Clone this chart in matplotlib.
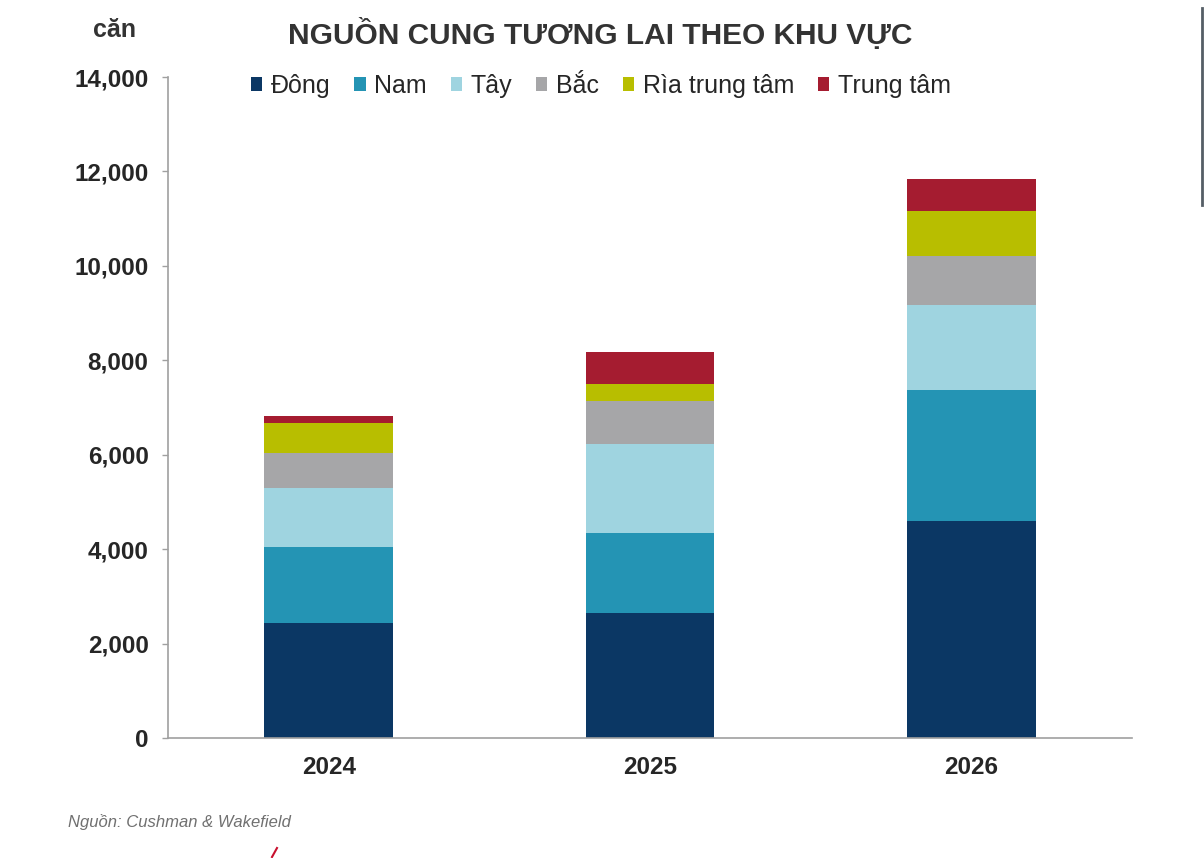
import matplotlib
matplotlib.use("Agg")
import matplotlib.pyplot as plt
from matplotlib.patches import Patch
from matplotlib.lines import Line2D
import numpy as np

plt.rcParams['font.family'] = ['Liberation Sans', 'DejaVu Sans']

years = ["2024", "2025", "2026"]
series_names = ["Đông", "Nam", "Tây", "Bắc", "Rìa trung tâm", "Trung tâm"]
dong = [2440, 2650, 4600]
nam = [1610, 1690, 2770]
tay = [1250, 1890, 1800]
bac = [740, 900, 1040]
ria = [630, 370, 950]
trung_tam = [150, 680, 680]
colors = ["#0b3764", "#2494b4", "#9fd4e0", "#a6a6a8", "#b8be00", "#a51c30"]
yticks = [0, 2000, 4000, 6000, 8000, 10000, 12000, 14000]

series = [dong, nam, tay, bac, ria, trung_tam]

fig = plt.figure(figsize=(12.04, 8.58), dpi=100)
ax = fig.add_axes([168/1204, 1 - 738/858, (1132-168)/1204, (738-77)/858])

x = np.arange(len(years))
bottom = np.zeros(len(years))
for name, vals, c in zip(series_names, series, colors):
    ax.bar(x, vals, width=0.4, bottom=bottom, color=c, label=name, zorder=2)
    bottom += np.array(vals)

ax.set_xlim(-0.5, 2.5)
ax.set_ylim(0, 14000)
ax.set_yticks(yticks)
ax.set_yticklabels([f"{v:,}" for v in yticks], fontsize=17.5, fontweight='bold', color='#262626')
ax.set_xticks(x)
ax.set_xticklabels(years, fontsize=17.5, fontweight='bold', color='#262626')
ax.tick_params(axis='x', length=0, pad=13)
ax.tick_params(axis='y', length=4.5, width=1, color='#a0a0a0', pad=9.5, direction='out')

for s in ['top', 'right']:
    ax.spines[s].set_visible(False)
for s in ['left', 'bottom']:
    ax.spines[s].set_color('#a0a0a0')
    ax.spines[s].set_linewidth(1.2)

handles = [Patch(facecolor=c, edgecolor='none') for c in colors]
fig.legend(handles, series_names, loc='center left', bbox_to_anchor=(251/1204, 1 - 86/858),
           ncol=6, frameon=False, fontsize=18, handlelength=0.45, handleheight=0.45,
           handletextpad=0.35, columnspacing=0.95, labelcolor='#262626',
           borderaxespad=0, borderpad=0)

fig.text(600/1204, 1 - 34/858, "NGUỒN CUNG TƯƠNG LAI THEO KHU VỰC", ha='center', va='center',
         fontsize=21.5, fontweight='bold', color='#333333')
fig.text(114/1204, 1 - 30/858, "căn", ha='center', va='center', fontsize=18,
         fontweight='bold', color='#333333')
fig.text(68/1204, 1 - 822/858, "Nguồn: Cushman & Wakefield", ha='left', va='center',
         fontsize=12, style='italic', color='#707070')

fig.add_artist(Line2D([1202/1204, 1202/1204], [1 - 8/858, 1 - 205/858], color='#555e66',
                      linewidth=2, transform=fig.transFigure))
fig.add_artist(Line2D([272/1204, 277/1204], [1 - 857/858, 1 - 848/858], color='#c8102e',
                      linewidth=1.5, transform=fig.transFigure))

fig.savefig("out.png", dpi=100, facecolor='white')
